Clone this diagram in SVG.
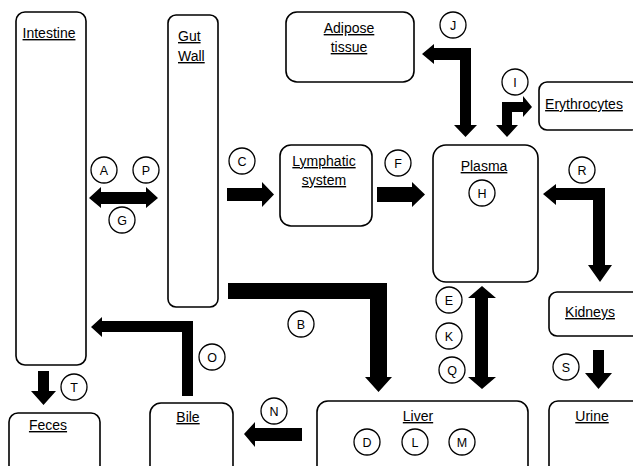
<svg xmlns="http://www.w3.org/2000/svg" width="633" height="466" viewBox="0 0 633 466">
<style>
.box{fill:#fff;stroke:#000;stroke-width:1.6}
.lbl{font-family:"Liberation Sans",Arial,sans-serif;font-size:14px;fill:#000;text-decoration:underline;text-anchor:middle}
.cir{fill:#fff;stroke:#000;stroke-width:1.3}
.ct{font-family:"Liberation Sans",Arial,sans-serif;font-size:12.5px;fill:#000;text-anchor:middle}
.arr{fill:#000}
</style>
<rect width="633" height="466" fill="#fff"/>
<g id="intestine"><rect class="box" x="16" y="12" width="70" height="353" rx="9"/><text class="lbl" x="49" y="38">Intestine</text></g>
<g id="gutwall"><rect class="box" x="168" y="15" width="50" height="292" rx="8"/><text class="lbl" x="178" y="41" style="text-anchor:start">Gut</text><text class="lbl" x="178" y="61" style="text-anchor:start">Wall</text></g>
<g id="adipose"><rect class="box" x="286" y="12" width="128" height="70" rx="11"/><text class="lbl" x="349" y="33">Adipose</text><text class="lbl" x="349" y="52">tissue</text></g>
<g id="erythrocytes"><rect class="box" x="539" y="82" width="100" height="48" rx="8"/><text class="lbl" x="584" y="109">Erythrocytes</text></g>
<g id="lymphatic"><rect class="box" x="280" y="145" width="92" height="81" rx="11"/><text class="lbl" x="324" y="166">Lymphatic</text><text class="lbl" x="324" y="185">system</text></g>
<g id="plasma"><rect class="box" x="433" y="145" width="105" height="137" rx="13"/><text class="lbl" x="484" y="171">Plasma</text></g>
<g id="kidneys"><rect class="box" x="549" y="292" width="95" height="44" rx="8"/><text class="lbl" x="590" y="317">Kidneys</text></g>
<g id="urine"><rect class="box" x="549" y="401" width="95" height="80" rx="9"/><text class="lbl" x="592" y="421">Urine</text></g>
<g id="liver"><rect class="box" x="317" y="401" width="211" height="80" rx="11"/><text class="lbl" x="418" y="421">Liver</text></g>
<g id="bile"><rect class="box" x="150" y="403" width="83" height="80" rx="11"/><text class="lbl" x="188" y="422">Bile</text></g>
<g id="feces"><rect class="box" x="9" y="413" width="91" height="70" rx="9"/><text class="lbl" x="48" y="430">Feces</text></g>
<g id="connectors">
<polygon class="arr" points="89,198 101,187 101,192 146,192 146,187 158,198 146,208 146,204 101,204 101,208"/>
<polygon class="arr" points="227,188 262,188 262,182 274,194.5 262,207 262,201 227,201"/>
<polygon class="arr" points="377,187 412,187 412,182 425,194.5 412,207 412,202 377,202"/>
<polygon class="arr" points="422,54 434,44 434,48 471,48 471,125 477,125 465.5,137 454,125 460,125 460,60 434,60 434,64"/>
<polygon class="arr" points="502,102 523,102 523,96 532,107 523,117 523,112 512,112 512,125 518,125 507,137 496,125 502,125"/>
<polygon class="arr" points="543,194 556,184 556,188 605,188 605,265 612,265 600,282 588,265 593,265 593,200 556,200 556,205"/>
<polygon class="arr" points="482,286 496,298 488,298 488,377 496,377 482,389 468,377 475,377 475,298 468,298"/>
<polygon class="arr" points="593,350 604,350 604,373 612,373 598.5,389 585,373 593,373"/>
<polygon class="arr" points="228,283 387,283 387,377 392,377 378.5,392 365,377 370,377 370,299 228,299"/>
<polygon class="arr" points="244,434 255,422 255,428 302,428 302,441 255,441 255,447"/>
<polygon class="arr" points="91,327 102,317 102,321 193,321 193,396 182,396 182,332 102,332 102,337"/>
<polygon class="arr" points="38,371 49,371 49,391 56,391 43.5,405 31,391 38,391"/>
</g>
<g id="labels">
<g><circle class="cir" cx="104" cy="170" r="13"/><text class="ct" x="104" y="174.5">A</text></g>
<g><circle class="cir" cx="146" cy="170" r="13"/><text class="ct" x="146" y="174.5">P</text></g>
<g><circle class="cir" cx="122" cy="220" r="13"/><text class="ct" x="122" y="224.5">G</text></g>
<g><circle class="cir" cx="242" cy="161" r="13"/><text class="ct" x="242" y="165.5">C</text></g>
<g><circle class="cir" cx="398" cy="163" r="13"/><text class="ct" x="398" y="167.5">F</text></g>
<g><circle class="cir" cx="453" cy="25" r="13"/><text class="ct" x="453" y="29.5">J</text></g>
<g><circle class="cir" cx="515" cy="82" r="13"/><text class="ct" x="515" y="86.5">I</text></g>
<g><circle class="cir" cx="482" cy="193" r="13"/><text class="ct" x="482" y="197.5">H</text></g>
<g><circle class="cir" cx="582" cy="170" r="13"/><text class="ct" x="582" y="174.5">R</text></g>
<g><circle class="cir" cx="449" cy="300" r="13"/><text class="ct" x="449" y="304.5">E</text></g>
<g><circle class="cir" cx="449" cy="336" r="13"/><text class="ct" x="449" y="340.5">K</text></g>
<g><circle class="cir" cx="452" cy="370" r="13"/><text class="ct" x="452" y="374.5">Q</text></g>
<g><circle class="cir" cx="566" cy="367" r="13"/><text class="ct" x="566" y="371.5">S</text></g>
<g><circle class="cir" cx="301" cy="324" r="13"/><text class="ct" x="301" y="328.5">B</text></g>
<g><circle class="cir" cx="274" cy="411" r="13"/><text class="ct" x="274" y="415.5">N</text></g>
<g><circle class="cir" cx="212" cy="357" r="13"/><text class="ct" x="212" y="361.5">O</text></g>
<g><circle class="cir" cx="74" cy="387" r="13"/><text class="ct" x="74" y="391.5">T</text></g>
<g><circle class="cir" cx="367" cy="442" r="13"/><text class="ct" x="367" y="446.5">D</text></g>
<g><circle class="cir" cx="415" cy="442" r="13"/><text class="ct" x="415" y="446.5">L</text></g>
<g><circle class="cir" cx="462" cy="442" r="13"/><text class="ct" x="462" y="446.5">M</text></g>
</g>
</svg>
